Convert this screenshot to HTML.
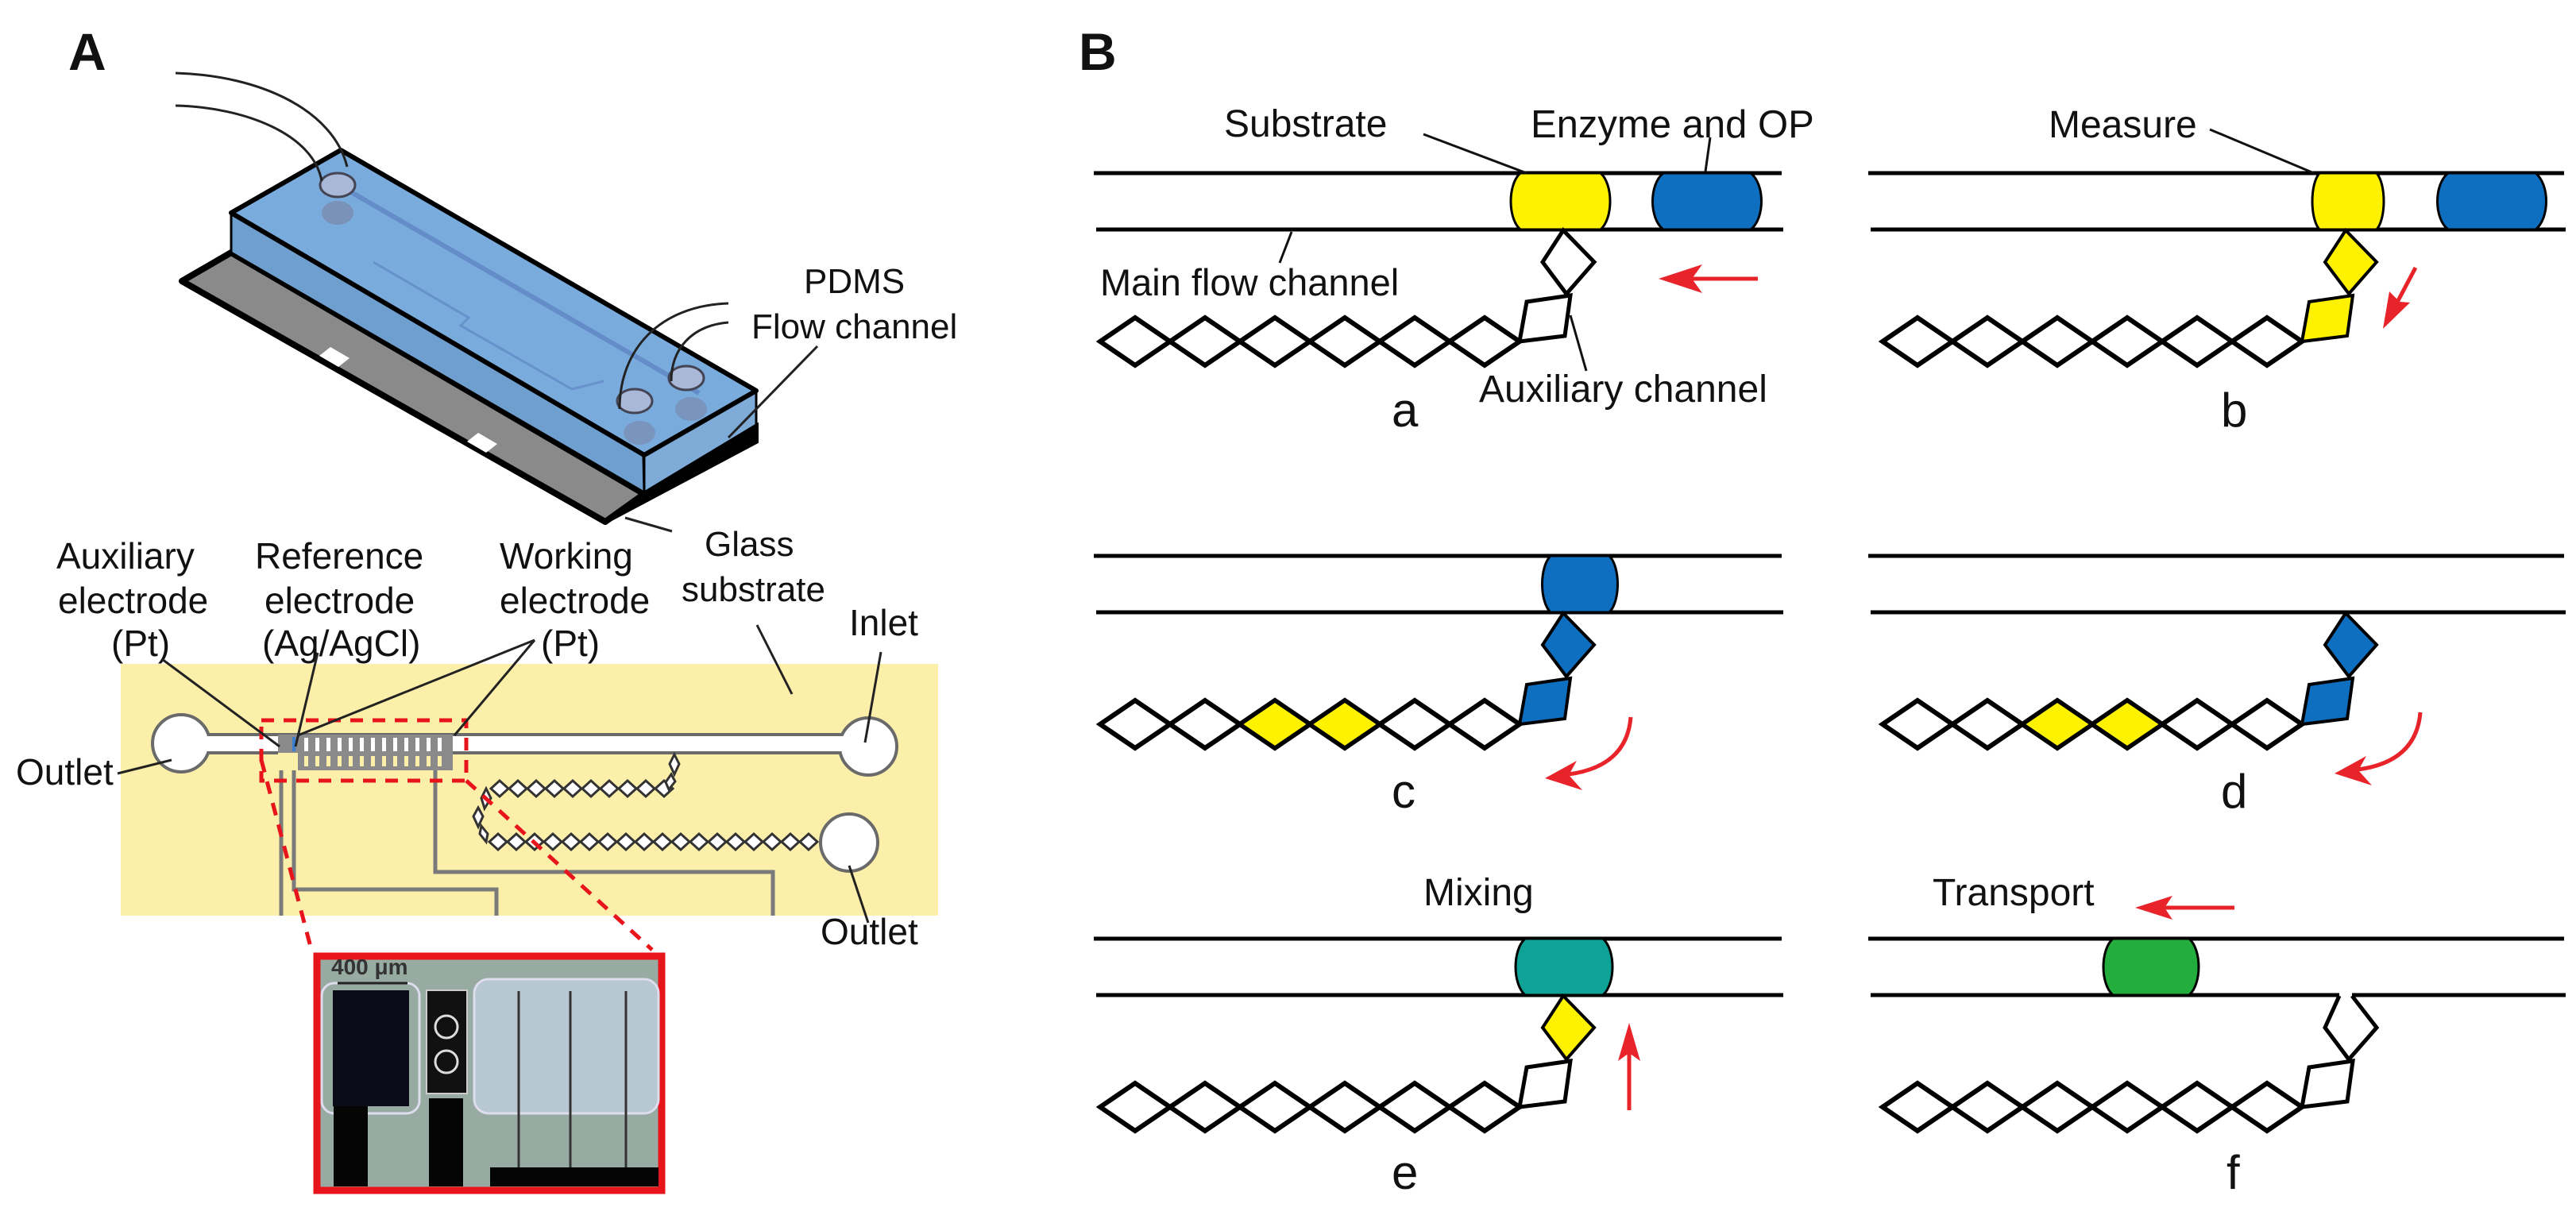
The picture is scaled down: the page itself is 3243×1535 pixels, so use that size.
<!DOCTYPE html>
<html><head><meta charset="utf-8"><style>
html,body{margin:0;padding:0;background:#fff;}
svg{display:block;}
text{font-family:"Liberation Sans",Arial,sans-serif;fill:#111;}
</style></head><body>
<svg width="3243" height="1535" viewBox="0 0 3243 1535" xmlns="http://www.w3.org/2000/svg">
<defs>
  <g id="chain" fill="#fff" stroke="#000" stroke-width="6" stroke-linejoin="miter">
    <path d="M-528,0 L-484,-30 L-440,0 L-484,30 Z"/>
    <path d="M-440,0 L-396,-30 L-352,0 L-396,30 Z"/>
    <path d="M-352,0 L-308,-30 L-264,0 L-308,30 Z"/>
    <path d="M-264,0 L-220,-30 L-176,0 L-220,30 Z"/>
    <path d="M-176,0 L-132,-30 L-88,0 L-132,30 Z"/>
    <path d="M-88,0 L-44,-30 L0,0 L-44,30 Z"/>
  </g>
  <path id="dia" d="M55,-140 L29,-100 L59,-60 L94,-100 Z"/>
  <path id="par" d="M9,-50 L64,-58 L57,-7 L0,0 Z"/>
  <g id="sd"><path d="M-11,0 L0,-10 L11,0 L0,10 Z"/></g>
</defs>

<!-- ============ PANEL A ============ -->
<text x="86" y="88" font-size="66" font-weight="bold">A</text>

<polygon points="229,354 291,318 811,622 762,657" fill="#8a8a8a" stroke="#000" stroke-width="8" stroke-linejoin="round"/>
<polygon points="811,622 952,537 952,556 762,657" fill="#000" stroke="#000" stroke-width="6"/>
<polygon points="402,448 416,437 440,451 426,462" fill="#fff"/>
<polygon points="588,556 602,545 626,559 612,570" fill="#fff"/>
<polygon points="291,268 291,318 811,620 811,573" fill="#6e9fcf" stroke="#000" stroke-width="3"/>
<polygon points="811,573 952,492 952,535 811,620" fill="#7eabd8" stroke="#000" stroke-width="3"/>
<polygon points="291,268 429,189 952,492 811,573" fill="#79acdc" stroke="#000" stroke-width="6" stroke-linejoin="round"/>
<line x1="810" y1="575" x2="811" y2="620" stroke="#000" stroke-width="3"/>
<path d="M430,235 L880,495" stroke="#5a7fbf" stroke-width="6" fill="none" opacity="0.7"/>
<path d="M470,330 L590,400 L580,410 L720,490 L760,480" stroke="#5a7fbf" stroke-width="3" fill="none" opacity="0.6"/>
<ellipse cx="425" cy="233" rx="22" ry="15" fill="#aab8d8" stroke="#445" stroke-width="3"/>
<ellipse cx="425" cy="268" rx="20" ry="15" fill="#7b86a8" opacity="0.7"/>
<ellipse cx="799" cy="505" rx="22" ry="15" fill="#aab8d8" stroke="#445" stroke-width="3"/>
<ellipse cx="864" cy="476" rx="22" ry="15" fill="#aab8d8" stroke="#445" stroke-width="3"/>
<ellipse cx="805" cy="545" rx="20" ry="15" fill="#7b86a8" opacity="0.6"/>
<ellipse cx="870" cy="515" rx="20" ry="15" fill="#7b86a8" opacity="0.6"/>
<path d="M221,92 C330,95 420,140 437,210" stroke="#222" stroke-width="3" fill="none"/>
<path d="M221,133 C310,135 395,170 405,228" stroke="#222" stroke-width="3" fill="none"/>
<path d="M917,382 C830,385 780,440 780,515" stroke="#222" stroke-width="3" fill="none"/>
<path d="M917,406 C870,410 845,440 845,480" stroke="#222" stroke-width="3" fill="none"/>
<text x="1012" y="369" font-size="44">PDMS</text>
<text x="946" y="426" font-size="44">Flow channel</text>
<line x1="1029" y1="436" x2="917" y2="551" stroke="#222" stroke-width="3"/>
<text x="887" y="700" font-size="44">Glass</text>
<text x="858" y="757" font-size="44">substrate</text>
<line x1="787" y1="652" x2="846" y2="669" stroke="#222" stroke-width="3"/>

<text x="71" y="716" font-size="46">Auxiliary</text>
<text x="73" y="772" font-size="46">electrode</text>
<text x="140" y="826" font-size="46">(Pt)</text>
<text x="321" y="716" font-size="46">Reference</text>
<text x="333" y="772" font-size="46">electrode</text>
<text x="330" y="826" font-size="46">(Ag/AgCl)</text>
<text x="629" y="716" font-size="46">Working</text>
<text x="629" y="772" font-size="46">electrode</text>
<text x="681" y="826" font-size="46">(Pt)</text>
<text x="1069" y="800" font-size="46">Inlet</text>

<rect x="152" y="836" width="1029" height="317" fill="#fcefaa"/>
<rect x="238" y="925" width="832" height="23" fill="#fff" stroke="#6a6a6a" stroke-width="4"/>
<circle cx="228" cy="936" r="36" fill="#fff" stroke="#6a6a6a" stroke-width="4"/>
<rect x="240" y="927" width="30" height="19" fill="#fff"/>
<circle cx="1093" cy="940" r="36" fill="#fff" stroke="#6a6a6a" stroke-width="4"/>
<rect x="1040" y="927" width="25" height="19" fill="#fff"/>
<circle cx="1069" cy="1061" r="36" fill="#fff" stroke="#6a6a6a" stroke-width="4"/>
<g stroke="#7a7a7a" stroke-width="5" fill="none">
  <path d="M354,948 L354,1153"/>
  <path d="M370,948 L370,1120 L625,1120 L625,1153"/>
  <path d="M548,970 L548,1098 L973,1098 L973,1153"/>
</g>
<rect x="350" y="925" width="220" height="45" fill="#8a8a8a"/>
<g fill="#fff">
  <rect x="383" y="929" width="5" height="17"/><rect x="397" y="929" width="5" height="17"/><rect x="411" y="929" width="5" height="17"/><rect x="425" y="929" width="5" height="17"/><rect x="439" y="929" width="5" height="17"/><rect x="453" y="929" width="5" height="17"/><rect x="467" y="929" width="5" height="17"/><rect x="481" y="929" width="5" height="17"/><rect x="495" y="929" width="5" height="17"/><rect x="509" y="929" width="5" height="17"/><rect x="523" y="929" width="5" height="17"/><rect x="537" y="929" width="5" height="17"/><rect x="551" y="929" width="5" height="17"/>
</g>
<g fill="#fcefaa">
  <rect x="383" y="952" width="5" height="13"/><rect x="397" y="952" width="5" height="13"/><rect x="411" y="952" width="5" height="13"/><rect x="425" y="952" width="5" height="13"/><rect x="439" y="952" width="5" height="13"/><rect x="453" y="952" width="5" height="13"/><rect x="467" y="952" width="5" height="13"/><rect x="481" y="952" width="5" height="13"/><rect x="495" y="952" width="5" height="13"/><rect x="509" y="952" width="5" height="13"/><rect x="523" y="952" width="5" height="13"/><rect x="537" y="952" width="5" height="13"/><rect x="551" y="952" width="5" height="13"/>
</g>
<rect x="350" y="948" width="25" height="22" fill="#fcefaa"/>
<rect x="368" y="928" width="4" height="18" fill="#3a7fd0"/>
<g fill="#fff" stroke="#333" stroke-width="3">
  <use href="#sd" x="629" y="993"/><use href="#sd" x="652" y="993"/><use href="#sd" x="675" y="993"/><use href="#sd" x="698" y="993"/><use href="#sd" x="721" y="993"/><use href="#sd" x="744" y="993"/><use href="#sd" x="767" y="993"/><use href="#sd" x="790" y="993"/><use href="#sd" x="813" y="993"/><use href="#sd" x="836" y="993"/>
  <path d="M849,950 L855,962 L849,975 L843,962 Z"/><path d="M845,975 L850,984 L842,994 L838,985 Z"/>
  <path d="M612,993 L618,1005 L610,1018 L606,1005 Z"/><path d="M602,1017 L608,1028 L602,1041 L596,1028 Z"/><path d="M606,1040 L614,1050 L612,1060 L604,1050 Z"/>
  <use href="#sd" x="627" y="1060"/><use href="#sd" x="650" y="1060"/><use href="#sd" x="673" y="1060"/><use href="#sd" x="696" y="1060"/><use href="#sd" x="719" y="1060"/><use href="#sd" x="742" y="1060"/><use href="#sd" x="765" y="1060"/><use href="#sd" x="788" y="1060"/><use href="#sd" x="811" y="1060"/><use href="#sd" x="834" y="1060"/><use href="#sd" x="857" y="1060"/><use href="#sd" x="880" y="1060"/><use href="#sd" x="903" y="1060"/><use href="#sd" x="926" y="1060"/><use href="#sd" x="949" y="1060"/><use href="#sd" x="972" y="1060"/><use href="#sd" x="995" y="1060"/><use href="#sd" x="1018" y="1060"/>
</g>
<g stroke="#e8141c" stroke-width="5" fill="none" stroke-dasharray="16,12">
  <rect x="329" y="907" width="258" height="76"/>
  <path d="M329,957 L392,1196"/>
  <path d="M587,983 L821,1196"/>
</g>
<g stroke="#222" stroke-width="3">
  <line x1="204" y1="830" x2="352" y2="940"/>
  <line x1="400" y1="822" x2="372" y2="940"/>
  <line x1="673" y1="806" x2="375" y2="926"/>
  <line x1="673" y1="806" x2="572" y2="926"/>
  <line x1="953" y1="787" x2="997" y2="874"/>
  <line x1="1109" y1="821" x2="1089" y2="935"/>
  <line x1="148" y1="974" x2="216" y2="957"/>
  <line x1="1093" y1="1162" x2="1069" y2="1090"/>
</g>
<text x="20" y="988" font-size="46">Outlet</text>
<text x="1033" y="1189" font-size="46">Outlet</text>

<rect x="399" y="1204" width="434" height="295" fill="#98aba2" stroke="#e8141c" stroke-width="9"/>
<rect x="597" y="1233" width="232" height="169" rx="18" fill="#b8c8d2" stroke="#dde" stroke-width="3"/>
<rect x="405" y="1238" width="123" height="164" rx="16" fill="none" stroke="#dde" stroke-width="3"/>
<rect x="419" y="1247" width="96" height="146" fill="#0a0d18"/>
<rect x="420" y="1393" width="43" height="101" fill="#050505"/>
<rect x="537" y="1247" width="51" height="130" fill="#111" stroke="#ccc" stroke-width="2"/>
<circle cx="562" cy="1293" r="14" fill="#111" stroke="#ddd" stroke-width="3"/>
<circle cx="562" cy="1337" r="14" fill="#111" stroke="#ddd" stroke-width="3"/>
<rect x="540" y="1383" width="43" height="111" fill="#050505"/>
<rect x="617" y="1470" width="212" height="24" fill="#050505"/>
<g stroke="#333" stroke-width="3"><line x1="653" y1="1248" x2="653" y2="1470"/><line x1="718" y1="1248" x2="718" y2="1470"/><line x1="788" y1="1248" x2="788" y2="1470"/></g>
<text x="417" y="1227" font-size="28" font-weight="bold" style="fill:#333">400 μm</text>
<line x1="425" y1="1238" x2="513" y2="1238" stroke="#222" stroke-width="3"/>

<!-- ============ PANEL B ============ -->
<text x="1358" y="88" font-size="66" font-weight="bold">B</text>

<g stroke="#000" stroke-width="5">
  <line x1="1377" y1="218" x2="2243" y2="218"/><line x1="1380" y1="289" x2="2245" y2="289"/>
  <line x1="2352" y1="218" x2="3228" y2="218"/><line x1="2355" y1="289" x2="3230" y2="289"/>
  <line x1="1377" y1="700" x2="2243" y2="700"/><line x1="1380" y1="771" x2="2245" y2="771"/>
  <line x1="2352" y1="700" x2="3228" y2="700"/><line x1="2355" y1="771" x2="3230" y2="771"/>
  <line x1="1377" y1="1182" x2="2243" y2="1182"/><line x1="1380" y1="1253" x2="2245" y2="1253"/>
  <line x1="2352" y1="1182" x2="3228" y2="1182"/><line x1="2355" y1="1253" x2="3230" y2="1253"/>
</g>

<!-- a -->
<path d="M1914,218 L2015,218 C2031,232 2031,275 2015,289 L1914,289 C1898,275 1898,232 1914,218 Z" fill="#fff200" stroke="#000" stroke-width="3"/>
<path d="M2094,218 L2204,218 C2222,232 2222,275 2204,289 L2094,289 C2076,275 2076,232 2094,218 Z" fill="#0e6ebf" stroke="#000" stroke-width="3"/>
<g transform="translate(1913,430)">
  <use href="#chain"/>
  <use href="#dia" fill="#fff" stroke="#000" stroke-width="5"/>
  <use href="#par" fill="#fff" stroke="#000" stroke-width="5"/>
</g>
<g stroke="#111" stroke-width="3">
  <line x1="1792" y1="169" x2="1922" y2="218"/>
  <line x1="2153" y1="173" x2="2147" y2="216"/>
  <line x1="1626" y1="292" x2="1611" y2="331"/>
  <line x1="1977" y1="397" x2="1997" y2="467"/>
</g>
<text x="1541" y="172" font-size="48">Substrate</text>
<text x="1927" y="173" font-size="49">Enzyme and OP</text>
<text x="1385" y="372" font-size="47">Main flow channel</text>
<text x="1862" y="506" font-size="48">Auxiliary channel</text>
<text x="1752" y="537" font-size="60">a</text>
<line x1="2213" y1="351" x2="2130" y2="351" stroke="#e8232a" stroke-width="5"/>
<polygon points="2088,351 2143,333 2130,351 2143,369" fill="#e8232a"/>

<!-- b -->
<path d="M2920,218 L2992,218 C3004,232 3004,275 2992,289 L2920,289 C2908,275 2908,232 2920,218 Z" fill="#fff200" stroke="#000" stroke-width="3"/>
<path d="M3082,218 L3192,218 C3210,232 3210,275 3192,289 L3082,289 C3064,275 3064,232 3082,218 Z" fill="#0e6ebf" stroke="#000" stroke-width="3"/>
<g transform="translate(2898,430)">
  <use href="#chain"/>
  <use href="#dia" fill="#fff200" stroke="#000" stroke-width="4"/>
  <use href="#par" fill="#fff200" stroke="#000" stroke-width="4"/>
</g>
<line x1="2782" y1="163" x2="2913" y2="218" stroke="#111" stroke-width="3"/>
<text x="2579" y="173" font-size="48">Measure</text>
<text x="2796" y="537" font-size="60">b</text>
<line x1="3041" y1="337" x2="3014" y2="388" stroke="#e8232a" stroke-width="5"/>
<polygon points="3000,414 3034,381 3021,380 3008,367" fill="#e8232a"/>

<!-- c -->
<path d="M1952,700 L2026,700 C2040,714 2040,757 2026,771 L1952,771 C1938,757 1938,714 1952,700 Z" fill="#0e6ebf" stroke="#000" stroke-width="3"/>
<g transform="translate(1913,912)">
  <use href="#chain"/>
  <path d="M-352,0 L-308,-30 L-264,0 L-308,30 Z" fill="#fff200" stroke="#000" stroke-width="5"/>
  <path d="M-264,0 L-220,-30 L-176,0 L-220,30 Z" fill="#fff200" stroke="#000" stroke-width="5"/>
  <use href="#dia" fill="#0e6ebf" stroke="#000" stroke-width="4"/>
  <use href="#par" fill="#0e6ebf" stroke="#000" stroke-width="4"/>
</g>
<text x="1752" y="1017" font-size="60">c</text>
<path d="M2053,903 Q2048,965 1975,975" stroke="#e8232a" stroke-width="5" fill="none"/>
<polygon points="1945,980 1985,958 1975,976 1992,995" fill="#e8232a"/>

<!-- d -->
<g transform="translate(2898,912)">
  <use href="#chain"/>
  <path d="M-352,0 L-308,-30 L-264,0 L-308,30 Z" fill="#fff200" stroke="#000" stroke-width="5"/>
  <path d="M-264,0 L-220,-30 L-176,0 L-220,30 Z" fill="#fff200" stroke="#000" stroke-width="5"/>
  <use href="#dia" fill="#0e6ebf" stroke="#000" stroke-width="4"/>
  <use href="#par" fill="#0e6ebf" stroke="#000" stroke-width="4"/>
</g>
<text x="2796" y="1017" font-size="60">d</text>
<g transform="translate(994,-6)">
<path d="M2053,903 Q2048,965 1975,975" stroke="#e8232a" stroke-width="5" fill="none"/>
<polygon points="1945,980 1985,958 1975,976 1992,995" fill="#e8232a"/>
</g>

<!-- e -->
<text x="1792" y="1140" font-size="48">Mixing</text>
<path d="M1920,1182 L2018,1182 C2034,1196 2034,1239 2018,1253 L1920,1253 C1904,1239 1904,1196 1920,1182 Z" fill="#0ea396" stroke="#000" stroke-width="3"/>
<g transform="translate(1913,1394)">
  <use href="#chain"/>
  <use href="#dia" fill="#fff200" stroke="#000" stroke-width="4"/>
  <use href="#par" fill="#fff" stroke="#000" stroke-width="5"/>
</g>
<text x="1752" y="1497" font-size="60">e</text>
<line x1="2051" y1="1398" x2="2051" y2="1320" stroke="#e8232a" stroke-width="5"/>
<polygon points="2051,1288 2037,1336 2051,1326 2065,1336" fill="#e8232a"/>

<!-- f -->
<text x="2433" y="1140" font-size="48">Transport</text>
<line x1="2813" y1="1143" x2="2725" y2="1143" stroke="#e8232a" stroke-width="5"/>
<polygon points="2688,1143 2735,1128 2725,1143 2735,1158" fill="#e8232a"/>
<path d="M2660,1182 L2756,1182 C2772,1196 2772,1239 2756,1253 L2660,1253 C2644,1239 2644,1196 2660,1182 Z" fill="#22ad3c" stroke="#000" stroke-width="3"/>
<g transform="translate(2898,1394)">
  <use href="#chain"/>
  <rect x="47" y="-146" width="16" height="12" fill="#fff"/>
  <path d="M47,-140 L29,-100 L59,-60 L94,-100 L63,-140" fill="#fff" stroke="#000" stroke-width="5"/>
  <use href="#par" fill="#fff" stroke="#000" stroke-width="5"/>
</g>
<text x="2803" y="1497" font-size="60">f</text>
</svg>
</body></html>
